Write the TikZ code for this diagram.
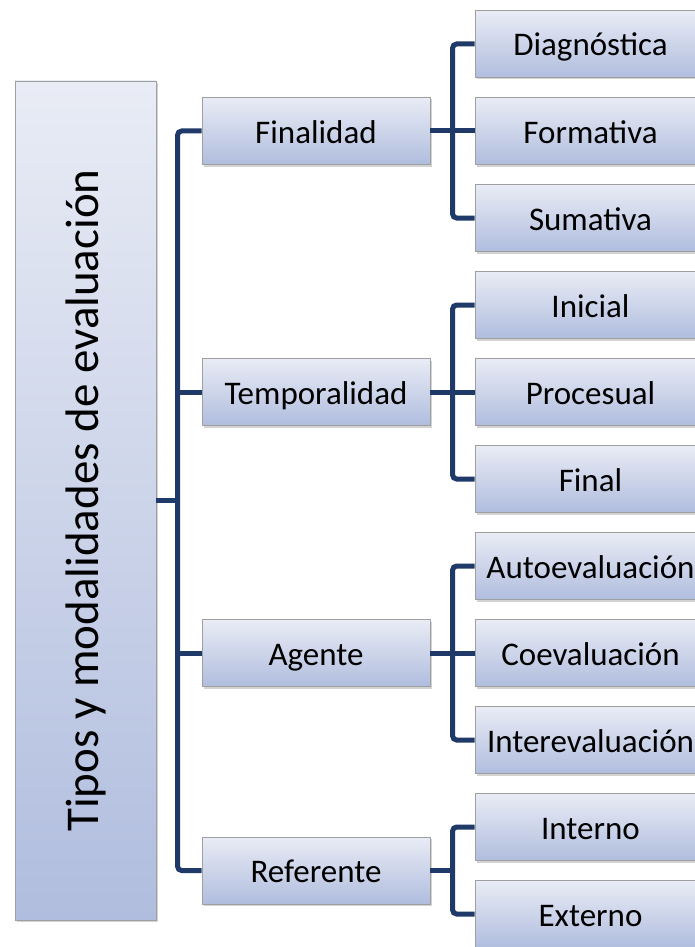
\documentclass[tikz,border=0pt]{standalone}
\usepackage{fontspec}
\setmainfont{Carlito}
\usetikzlibrary{shadows}
\definecolor{linkblue}{RGB}{31,58,104}
\definecolor{boxtop}{RGB}{233,236,245}
\definecolor{boxbottom}{RGB}{176,189,222}
\tikzset{box style/.style={draw=gray!75, line width=0.8pt, top color=boxtop, bottom color=boxbottom,
    drop shadow={shadow xshift=2pt, shadow yshift=-2pt, opacity=0.35},
    minimum height=67pt, inner sep=0pt, text height=28pt, text depth=4pt,
    font=\fontsize{33}{40}\selectfont}}
\tikzset{link style/.style={draw=linkblue, line width=5pt, rounded corners=4pt}}

\begin{document}
\begin{tikzpicture}[x=1pt, y=-1pt]
    \useasboundingbox (0,0) rectangle (694,947);
    % root
    \node[box style, minimum width=141pt, minimum height=839pt, text height=, text depth=,
        font=\fontsize{47}{56}\selectfont]
        (root) at (85.5, 500.5) {\rotatebox{90}{Tipos y modalidades de evaluación}};
    % first level
    \begin{scope}[every node/.style={box style, minimum width=228pt}]
        \node (fin) at (316, 131) {Finalidad};
        \node (tmp) at (316, 392) {Temporalidad};
        \node (age) at (316, 653) {Agente};
        \node (ref) at (316, 870.5) {Referente};
    \end{scope}
    % second level
    \foreach \name/\txt [count=\i from 0] in {dia/Diagnóstica, for/Formativa, sum/Sumativa,
        ini/Inicial, pro/Procesual, fnl/Final, aut/Autoevaluación, coe/Coevaluación,
        int/Interevaluación, inn/Interno, ext/Externo}
        \node[box style, minimum width=231pt] (\name) at (590.5, 44+87*\i) {\txt};
    % connectors
    \draw[link style] (root.east) -- ++(22,0);
    \draw[link style] (fin.west) -- ++(-24,0) |- (ref.west);
    \draw[link style] (tmp.west) -- ++(-24,0);
    \draw[link style] (age.west) -- ++(-24,0);
    \draw[link style] (dia.west) -- ++(-22,0) |- (sum.west);
    \draw[link style] (fin.east) -- (for.west);
    \draw[link style] (ini.west) -- ++(-22,0) |- (fnl.west);
    \draw[link style] (tmp.east) -- (pro.west);
    \draw[link style] (aut.west) -- ++(-22,0) |- (int.west);
    \draw[link style] (age.east) -- (coe.west);
    \draw[link style] (inn.west) -- ++(-22,0) |- (ext.west);
    \draw[link style] (ref.east) -- ++(23,0);
\end{tikzpicture}
\end{document}
